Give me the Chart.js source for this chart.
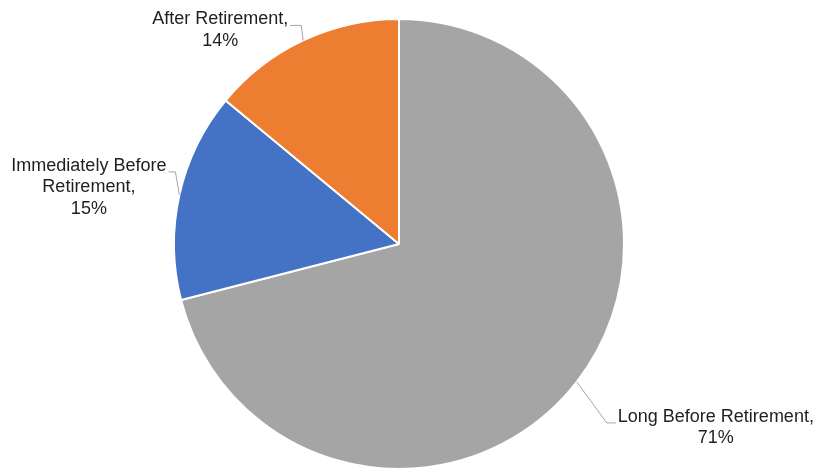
<!DOCTYPE html>
<html>
<head>
<meta charset="utf-8">
<script src="https://cdn.jsdelivr.net/npm/chart.js@4"></script>
<style>
  html, body { margin: 0; padding: 0; background: #ffffff; }
  canvas { display: block; }
</style>
</head>
<body>
<canvas id="c" width="820" height="469"></canvas>
<script>
const categories = ['Long Before Retirement', 'Immediately Before Retirement', 'After Retirement'];
const shares = [71, 15, 14];
const sliceColors = ['#A5A5A5', '#4472C4', '#ED7D31'];

// Leader line for each slice: elbow offset from the rim point, then a horizontal run toward the label
const leaderLayout = [
  { dx: 30, dy: 41, run: 9 },
  { dx: -4, dy: -23, run: -7 },
  { dx: -2, dy: -15, run: -11 }
];

const LABEL_FONT = '18px "Liberation Sans", Arial, sans-serif';
const LABEL_COLOR = '#1f1f1f';
const LINE_HEIGHT = 21.5;
const WRAP_WIDTH = 210;

function wrapText(ctx, text, maxWidth) {
  const words = text.split(' ');
  const lines = [];
  let cur = '';
  words.forEach(w => {
    const test = cur ? cur + ' ' + w : w;
    if (cur && ctx.measureText(test).width > maxWidth) {
      lines.push(cur);
      cur = w;
    } else {
      cur = test;
    }
  });
  if (cur) lines.push(cur);
  return lines;
}

const leaderLabels = {
  id: 'leaderLabels',
  afterDatasetsDraw(chart) {
    const ctx = chart.ctx;
    const meta = chart.getDatasetMeta(0);
    ctx.save();
    ctx.font = LABEL_FONT;
    meta.data.forEach((arc, i) => {
      const p = arc.getProps(['x', 'y', 'startAngle', 'endAngle', 'outerRadius'], true);
      const mid = (p.startAngle + p.endAngle) / 2;
      const ex = p.x + Math.cos(mid) * p.outerRadius;
      const ey = p.y + Math.sin(mid) * p.outerRadius;
      const L = leaderLayout[i];
      const bx = ex + L.dx, by = ey + L.dy;
      const tx = bx + L.run;

      ctx.strokeStyle = '#A6A6A6';
      ctx.lineWidth = 1;
      ctx.beginPath();
      ctx.moveTo(ex, ey);
      ctx.lineTo(bx, by);
      ctx.lineTo(tx, by);
      ctx.stroke();

      const value = chart.data.datasets[0].data[i];
      const lines = wrapText(ctx, chart.data.labels[i] + ',', WRAP_WIDTH);
      lines.push(value + '%');
      const w1 = ctx.measureText(lines[0]).width;
      const gap = 2;
      const cx = L.run > 0 ? tx + gap + w1 / 2 : tx - gap - w1 / 2;
      const base = by - 1;
      ctx.fillStyle = LABEL_COLOR;
      ctx.textAlign = 'center';
      ctx.textBaseline = 'alphabetic';
      lines.forEach((ln, k) => ctx.fillText(ln, cx, base + k * LINE_HEIGHT));
    });
    ctx.restore();
  }
};

new Chart(document.getElementById('c'), {
  type: 'pie',
  data: {
    labels: categories,
    datasets: [{
      data: shares,
      backgroundColor: sliceColors,
      borderColor: '#ffffff',
      borderWidth: 2,
      radius: 225
    }]
  },
  options: {
    responsive: false,
    animation: false,
    layout: { padding: { left: 0, right: 22, top: 20, bottom: 1 } },
    plugins: {
      legend: { display: false },
      tooltip: { enabled: false }
    }
  },
  plugins: [leaderLabels]
});
</script>
</body>
</html>
